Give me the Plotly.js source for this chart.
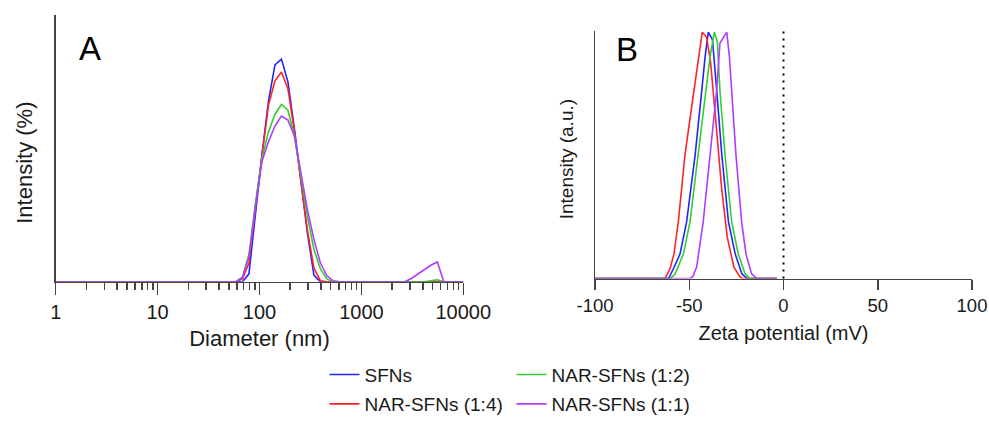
<!DOCTYPE html>
<html>
<head>
<meta charset="utf-8">
<script src="https://cdn.plot.ly/plotly-3.0.1.min.js"></script>
<style>html,body{margin:0;padding:0;background:#fff}#chart{width:989px;height:423px}</style>
</head>
<body>
<div id="chart"></div>
<script>
// ---- Panel A: DLS size distribution (Diameter, nm) ----
const diameterNm = [0.9649, 1.117, 1.294, 1.499, 1.736, 2.01, 2.328, 2.696, 3.122, 3.615,
  4.187, 4.849, 5.615, 6.503, 7.531, 8.721, 10.1, 11.7, 13.54, 15.69,
  18.17, 21.04, 24.36, 28.21, 32.67, 37.84, 43.82, 50.75, 58.77, 68.06,
  78.82, 91.28, 105.7, 122.4, 141.8, 164.2, 190.1, 220.2, 255, 295.3,
  342, 396.1, 458.7, 531.2, 615.1, 712.4, 825, 955.4, 1106, 1281,
  1484, 1718, 1990, 2305, 2669, 3091, 3580, 4145, 4801, 5560,
  6439, 7456, 8635, 10000];

const sizeSFNs = [0,0,0,0,0,0,0,0,0,0, 0,0,0,0,0,0,0,0,0,0, 0,0,0,0,0,0,0,0,0,0,
  0.60, 5.16, 9.65, 13.69, 16.46, 16.90, 15.18, 11.60, 7.70, 3.70,
  0.50, 0,0,0,0,0,0,0,0,0, 0,0,0,0,0,0,0,0,0,0, 0,0,0,0];
const sizeNAR14 = [0,0,0,0,0,0,0,0,0,0, 0,0,0,0,0,0,0,0,0,0, 0,0,0,0,0,0,0,0,0,0.22,
  1.42, 5.68, 9.65, 13.39, 15.26, 15.93, 14.66, 11.40, 7.60, 3.90,
  1.05, 0.07, 0,0,0,0,0,0,0,0, 0,0,0,0,0,0,0,0,0,0, 0,0,0,0];
const sizeNAR12 = [0,0,0,0,0,0,0,0,0,0, 0,0,0,0,0,0,0,0,0,0, 0,0,0,0,0,0,0,0,0,0.37,
  2.09, 5.98, 9.35, 11.37, 12.72, 13.46, 13.02, 11.07, 7.93, 4.94,
  2.47, 0.97, 0.22, 0,0,0,0,0,0,0, 0,0,0,0,0,0,0,0,0.07,0.15, 0,0,0,0];
const sizeNAR11 = [0,0,0,0,0,0,0,0,0,0, 0,0,0,0,0,0,0,0,0,0, 0,0,0,0,0,0,0,0,0,0.30,
  1.87, 5.68, 9.13, 10.62, 11.82, 12.57, 12.27, 11.07, 8.15, 5.46,
  3.22, 1.42, 0.45, 0.07, 0,0,0,0,0,0, 0,0,0,0,0,0.25,0.58,0.95,1.25,1.50, 0,0,0,0];

// ---- Panel B: zeta potential distribution (normalised intensity) ----
const zetaSFNs_x   = [-100, -61, -58.4, -54.9, -51.4, -46.9, -43.4, -41.6, -39.9, -37.7, -35.4, -32.7, -29.2, -25.6, -22.1, -19.3, -3.5];
const zetaSFNs_y   = [0, 0, 0.04, 0.10, 0.23, 0.50, 0.76, 0.90, 1.0, 0.97, 0.76, 0.50, 0.23, 0.10, 0.02, 0, 0];
const zetaNAR14_x  = [-100, -62.9, -60.2, -58.1, -55.8, -52.3, -49.2, -46.4, -43.1, -40.8, -38.7, -35.8, -32.8, -29.8, -26.3, -23.1, -21.5, -3.5];
const zetaNAR14_y  = [0, 0, 0.04, 0.10, 0.23, 0.50, 0.67, 0.83, 1.0, 0.98, 0.88, 0.63, 0.365, 0.166, 0.046, 0.007, 0, 0];
const zetaNAR12_x  = [-100, -60, -57.5, -53.1, -49.6, -45.2, -41.1, -39.0, -36.7, -35.1, -33.7, -31.0, -27.5, -24.0, -20.4, -17.8, -3.5];
const zetaNAR12_y  = [0, 0, 0.02, 0.10, 0.23, 0.50, 0.76, 0.90, 1.0, 0.96, 0.76, 0.50, 0.23, 0.10, 0.02, 0, 0];
const zetaNAR11_x  = [-100, -49.6, -48.0, -46.1, -42.6, -39.0, -35.5, -33.7, -30.1, -28.7, -27.5, -25.2, -22.2, -19.9, -17.0, -14.2, -3.5];
const zetaNAR11_y  = [0, 0, 0.01, 0.046, 0.23, 0.50, 0.76, 0.956, 1.0, 0.90, 0.76, 0.50, 0.23, 0.10, 0.02, 0, 0];

const seriesNames = ['SFNs', 'NAR-SFNs (1:4)', 'NAR-SFNs (1:2)', 'NAR-SFNs (1:1)'];
const sizeTicks = [1, 10, 100, 1000, 10000];
const sizeTickText = ['1', '10', '100', '1000', '10000'];
const zetaTicks = [-100, -50, 0, 50, 100];
const zetaTickText = ['-100', '-50', '0', '50', '100'];
const zeroLineX = 0;

const colors = ['#2424ff', '#ff2424', '#33cc33', '#b03cff'];
const legendFor = ['legend', 'legend2', 'legend', 'legend2'];
const sizeY = [sizeSFNs, sizeNAR14, sizeNAR12, sizeNAR11];
const zetaX = [zetaSFNs_x, zetaNAR14_x, zetaNAR12_x, zetaNAR11_x];
const zetaY = [zetaSFNs_y, zetaNAR14_y, zetaNAR12_y, zetaNAR11_y];

const FONT = 'Liberation Sans, Arial, sans-serif';
const TXT = '#1a1a1a';
const AX = '#444444';

const traces = [];
for (let i = 0; i < 4; i++) {
  traces.push({
    type: 'scatter', mode: 'lines', x: diameterNm, y: sizeY[i],
    name: seriesNames[i], line: {color: colors[i], width: 1.6},
    xaxis: 'x', yaxis: 'y', legend: legendFor[i], showlegend: true
  });
}
for (let i = 0; i < 4; i++) {
  traces.push({
    type: 'scatter', mode: 'lines', x: zetaX[i], y: zetaY[i],
    name: seriesNames[i], line: {color: colors[i], width: 1.6},
    xaxis: 'x2', yaxis: 'y2', showlegend: false
  });
}

const W = 989, H = 423;
const layout = {
  width: W, height: H,
  margin: {l: 0, r: 0, t: 0, b: 0},
  paper_bgcolor: '#fff', plot_bgcolor: 'rgba(0,0,0,0)',
  font: {family: FONT, color: TXT, size: 20},
  xaxis: {
    domain: [55.7 / W, 463.3 / W], anchor: 'y', type: 'log', range: [0, 4],
    tickmode: 'array', tickvals: sizeTicks, ticktext: sizeTickText,
    ticks: 'outside', ticklen: 12, tickwidth: 1.5, tickcolor: AX, ticklabelstandoff: 0,
    minor: {ticks: 'outside', ticklen: 7, tickwidth: 1.5, tickcolor: AX, dtick: 'D1', showgrid: false},
    showline: true, linecolor: AX, linewidth: 1.5, showgrid: false, zeroline: false,
    tickfont: {family: FONT, size: 20, color: TXT},
    title: {text: 'Diameter (nm)', font: {family: FONT, size: 22, color: TXT}, standoff: 8},
    automargin: false
  },
  yaxis: {
    domain: [(H - 286.5) / H, (H - 15) / H], anchor: 'x', range: [0, 20.27],
    showline: true, linecolor: AX, linewidth: 1.5, ticks: '', showticklabels: false,
    showgrid: false, zeroline: false, automargin: false
  },
  xaxis2: {
    domain: [595 / W, 972 / W], anchor: 'y2', range: [-100, 100],
    tickmode: 'array', tickvals: zetaTicks, ticktext: zetaTickText,
    ticks: 'outside', ticklen: 10, tickwidth: 1.5, tickcolor: AX, ticklabelstandoff: 0,
    showline: true, linecolor: AX, linewidth: 1.5, showgrid: false, zeroline: false,
    tickfont: {family: FONT, size: 18.5, color: TXT},
    title: {text: 'Zeta potential (mV)', font: {family: FONT, size: 20, color: TXT}, standoff: 10},
    automargin: false
  },
  yaxis2: {
    domain: [(H - 283.3) / H, (H - 31.7) / H], anchor: 'x2', range: [0, 1.004],
    showline: true, linecolor: AX, linewidth: 1.5, ticks: '', showticklabels: false,
    showgrid: false, zeroline: false, automargin: false
  },
  shapes: [{
    type: 'line', xref: 'x2', yref: 'y2 domain', x0: zeroLineX, x1: zeroLineX, y0: 0, y1: 1,
    line: {color: '#000', width: 2, dash: '2px,5px'}
  }],
  annotations: [
    {text: 'A', xref: 'paper', yref: 'paper', x: 90 / W, y: (H - 49) / H, xanchor: 'center', yanchor: 'middle',
     showarrow: false, font: {family: FONT, size: 33, color: '#000'}},
    {text: 'B', xref: 'paper', yref: 'paper', x: 627 / W, y: (H - 50) / H, xanchor: 'center', yanchor: 'middle',
     showarrow: false, font: {family: FONT, size: 33, color: '#000'}},
    {text: 'Intensity (%)', xref: 'paper', yref: 'paper', x: 25 / W, y: (H - 165.5) / H, xanchor: 'center', yanchor: 'middle',
     textangle: -90, showarrow: false, font: {family: FONT, size: 22, color: TXT}},
    {text: 'Intensity (a.u.)', xref: 'paper', yref: 'paper', x: 566.5 / W, y: (H - 162.5) / H, xanchor: 'center', yanchor: 'middle',
     textangle: -90, showarrow: false, font: {family: FONT, size: 19, color: TXT}}
  ],
  legend: {
    orientation: 'h', x: 324.5 / W, xanchor: 'left', y: (H - 381) / H, yanchor: 'middle',
    entrywidth: 142, entrywidthmode: 'pixels', bgcolor: 'rgba(0,0,0,0)',
    font: {family: FONT, size: 19, color: TXT}, traceorder: 'normal'
  },
  legend2: {
    orientation: 'h', x: 324.5 / W, xanchor: 'left', y: (H - 411) / H, yanchor: 'middle',
    entrywidth: 142, entrywidthmode: 'pixels', bgcolor: 'rgba(0,0,0,0)',
    font: {family: FONT, size: 19, color: TXT}, traceorder: 'normal'
  }
};

Plotly.newPlot('chart', traces, layout, {staticPlot: true, displayModeBar: false});
</script>
</body>
</html>
